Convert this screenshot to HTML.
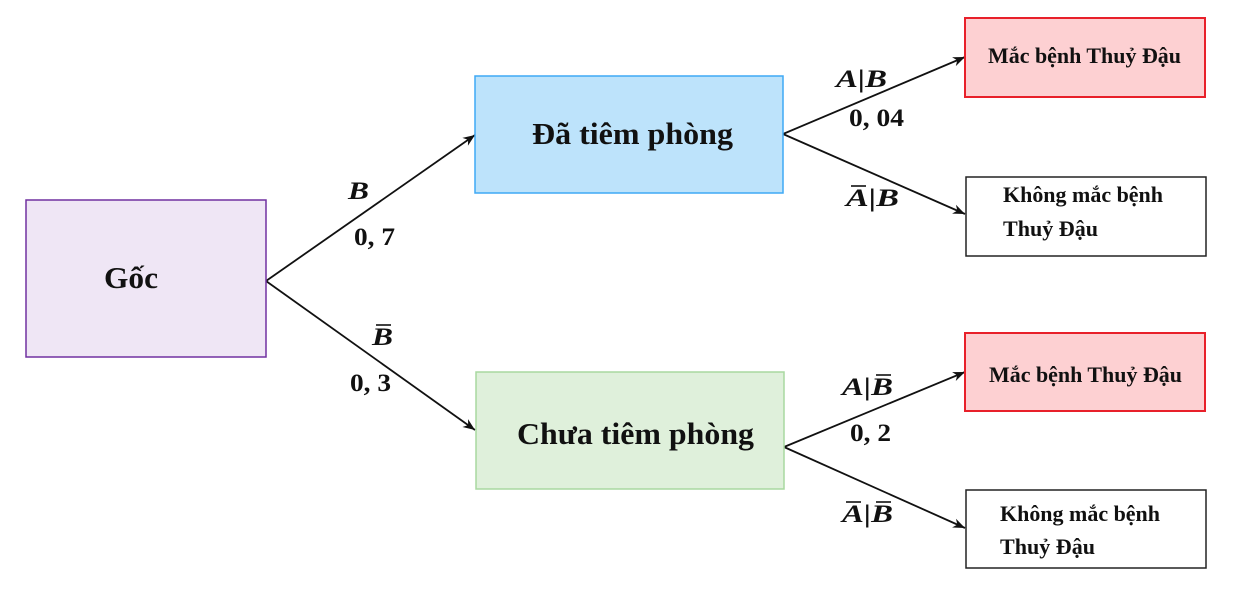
<!DOCTYPE html>
<html><head><meta charset="utf-8"><style>
body{margin:0;background:#fff}
svg{display:block}
text{font-family:"Liberation Serif","DejaVu Serif",serif;font-weight:bold;fill:#111}
.m{font-style:italic}
</style></head><body>
<svg width="1250" height="600" viewBox="0 0 1250 600">
<defs><marker id="ah" viewBox="0 0 10 10" refX="10" refY="5" markerWidth="12" markerHeight="12" markerUnits="userSpaceOnUse" orient="auto"><path d="M0,1 L10,5 L0,9 L3,5 z" fill="#111"/></marker></defs>
<g stroke="#111" stroke-width="1.8" fill="none">
<line x1="266" y1="281" x2="475" y2="135" marker-end="url(#ah)"/>
<line x1="266" y1="281" x2="475" y2="430" marker-end="url(#ah)"/>
<line x1="783" y1="134" x2="965" y2="57" marker-end="url(#ah)"/>
<line x1="783" y1="134" x2="965" y2="214" marker-end="url(#ah)"/>
<line x1="784" y1="447" x2="965" y2="372" marker-end="url(#ah)"/>
<line x1="784" y1="447" x2="965" y2="528" marker-end="url(#ah)"/>
</g>
<rect x="26" y="200" width="240" height="157" fill="#efe6f5" stroke="#7030a0" stroke-width="1.5"/>
<text x="104" y="288" font-size="31" textLength="54" lengthAdjust="spacingAndGlyphs">Gốc</text>
<rect x="475" y="76" width="308" height="117" fill="#bde3fb" stroke="#3fa9f5" stroke-width="1.5"/>
<text x="532" y="144" font-size="31" textLength="201" lengthAdjust="spacingAndGlyphs">Đã tiêm phòng</text>
<rect x="476" y="372" width="308" height="117" fill="#dff0db" stroke="#a8d8a0" stroke-width="1.5"/>
<text x="517" y="444" font-size="31" textLength="237" lengthAdjust="spacingAndGlyphs">Chưa tiêm phòng</text>
<rect x="965" y="18" width="240" height="79" fill="#fdd0d2" stroke="#e8202a" stroke-width="2"/>
<text x="988" y="63" font-size="22" textLength="193" lengthAdjust="spacingAndGlyphs">Mắc bệnh Thuỷ Đậu</text>
<rect x="966" y="177" width="240" height="79" fill="#fff" stroke="#222" stroke-width="1.5"/>
<text x="1003" y="202" font-size="22" textLength="160" lengthAdjust="spacingAndGlyphs">Không mắc bệnh</text>
<text x="1003" y="236" font-size="22" textLength="95" lengthAdjust="spacingAndGlyphs">Thuỷ Đậu</text>
<rect x="965" y="333" width="240" height="78" fill="#fdd0d2" stroke="#e8202a" stroke-width="2"/>
<text x="989" y="382" font-size="22" textLength="193" lengthAdjust="spacingAndGlyphs">Mắc bệnh Thuỷ Đậu</text>
<rect x="966" y="490" width="240" height="78" fill="#fff" stroke="#222" stroke-width="1.5"/>
<text x="1000" y="521" font-size="22" textLength="160" lengthAdjust="spacingAndGlyphs">Không mắc bệnh</text>
<text x="1000" y="554" font-size="22" textLength="95" lengthAdjust="spacingAndGlyphs">Thuỷ Đậu</text>
<g font-size="25">
<text x="348" y="199" class="m" textLength="21" lengthAdjust="spacingAndGlyphs">B</text>
<text x="354" y="245" textLength="41" lengthAdjust="spacingAndGlyphs">0, 7</text>
<text x="372" y="345" class="m" textLength="21" lengthAdjust="spacingAndGlyphs">B</text>
<line x1="376" y1="325" x2="391" y2="325" stroke="#111" stroke-width="1.6"/>
<text x="350" y="391" textLength="41" lengthAdjust="spacingAndGlyphs">0, 3</text>
<text x="836" y="87" class="m" textLength="51" lengthAdjust="spacingAndGlyphs">A|B</text>
<text x="849" y="126" textLength="55" lengthAdjust="spacingAndGlyphs">0, 04</text>
<text x="846" y="206" class="m" textLength="53" lengthAdjust="spacingAndGlyphs">A|B</text>
<line x1="851" y1="186" x2="866" y2="186" stroke="#111" stroke-width="1.6"/>
<text x="842" y="395" class="m" textLength="51" lengthAdjust="spacingAndGlyphs">A|B</text>
<line x1="876" y1="375" x2="891" y2="375" stroke="#111" stroke-width="1.6"/>
<text x="850" y="441" textLength="41" lengthAdjust="spacingAndGlyphs">0, 2</text>
<text x="842" y="522" class="m" textLength="51" lengthAdjust="spacingAndGlyphs">A|B</text>
<line x1="846" y1="502" x2="861" y2="502" stroke="#111" stroke-width="1.6"/>
<line x1="876" y1="502" x2="891" y2="502" stroke="#111" stroke-width="1.6"/>
</g>
</svg>
</body></html>
